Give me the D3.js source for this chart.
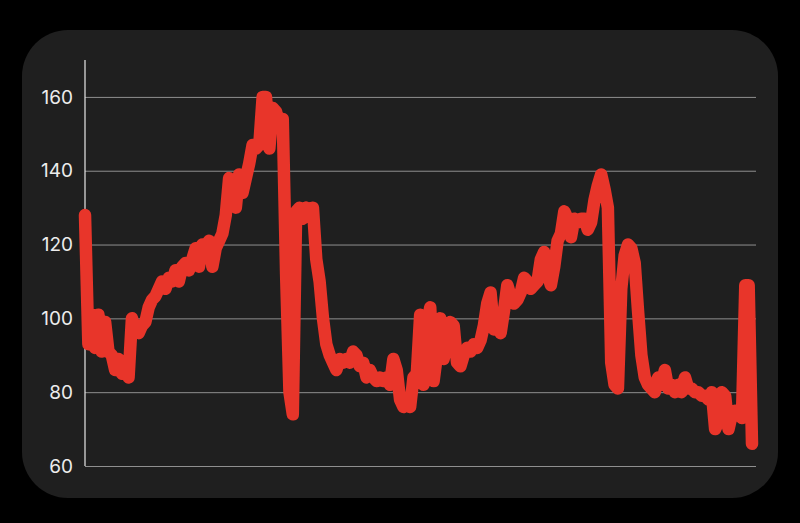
<!DOCTYPE html>
<html>
<head>
<meta charset="utf-8">
<script src="https://cdn.jsdelivr.net/npm/d3@7"></script>
<style>
  html, body { margin: 0; padding: 0; background: #000; }
  svg { display: block; }
</style>
</head>
<body>
<svg id="chart"></svg>
<script>
// readings, evenly spaced in time
const values = [
  128, 93, 101, 92, 101, 91, 99, 91, 90, 86,
  89, 85, 88, 84, 100, 97, 96, 98, 99, 103,
  105, 106, 108, 110, 108, 111, 110, 113, 110, 114,
  115, 113, 116, 119, 114, 120, 117, 121, 114, 119,
  121, 123, 128, 138, 137, 130, 139, 134, 138, 142,
  147, 146, 147, 160, 160, 146, 157, 156, 152, 154,
  112, 80, 74, 129, 130, 127, 130, 129, 130, 116,
  110, 100, 93, 90, 88, 86, 89, 88, 89, 88,
  91, 90, 87, 88, 84, 86, 84, 83, 84, 83,
  84, 82, 89, 86, 78, 76, 77, 76, 84, 85,
  101, 82, 98, 103, 83, 90, 100, 89, 93, 99,
  98, 88, 87, 90, 92, 91, 93, 92, 94, 98,
  104, 107, 97, 98, 96, 102, 109, 106, 104, 105,
  107, 111, 110, 108, 109, 110, 116, 118, 112, 109,
  114, 121, 123, 129, 127, 122, 127, 126, 127, 127,
  124, 126, 132, 136, 139, 135, 130, 88, 82, 81,
  108, 117, 120, 119, 115, 102, 90, 84, 82, 81,
  80, 84, 82, 86, 81, 82, 80, 82, 80, 84,
  81, 81, 80, 80, 79, 79, 78, 80, 70, 72,
  80, 79, 70, 74, 75, 74, 73, 109, 109, 66
];
const yTicks = [60, 80, 100, 120, 140, 160];
const yDomain = [60, 170];

const W = 800, H = 523;
const margin = {top: 60, right: 48, bottom: 57, left: 85};

const svg = d3.select('#chart')
    .attr('width', W)
    .attr('height', H);

svg.append('rect')
    .attr('x', 22).attr('y', 30)
    .attr('width', 756).attr('height', 468)
    .attr('rx', 46).attr('ry', 46)
    .attr('fill', '#1f1f1f');

const xScale = d3.scaleLinear()
    .domain([0, values.length - 1])
    .range([margin.left, W - margin.right]);

const yScale = d3.scaleLinear()
    .domain(yDomain)
    .range([H - margin.bottom, margin.top]);

// grid lines + labels
const yAxis = d3.axisLeft(yScale)
    .tickValues(yTicks)
    .tickSize(-(W - margin.right - margin.left + 4))
    .tickPadding(12);

const g = svg.append('g')
    .attr('transform', 'translate(' + margin.left + ',0)')
    .call(yAxis);
g.select('.domain').remove();
g.selectAll('.tick line')
    .attr('stroke', '#8f8f8f')
    .attr('stroke-width', 1);
g.selectAll('.tick text')
    .attr('fill', '#ececec')
    .style('font-family', 'Inter, "Open Sans", sans-serif')
    .style('font-size', '19px');

// vertical axis line
svg.append('line')
    .attr('x1', margin.left).attr('x2', margin.left)
    .attr('y1', margin.top).attr('y2', yScale(yDomain[0]))
    .attr('stroke', '#e8e8e8')
    .attr('stroke-width', 1.2);

const line = d3.line()
    .x((d, i) => xScale(i))
    .y(d => yScale(d));

svg.append('path')
    .datum(values)
    .attr('d', line)
    .attr('fill', 'none')
    .attr('stroke', '#e8352a')
    .attr('stroke-width', 12.5)
    .attr('stroke-linejoin', 'round')
    .attr('stroke-linecap', 'round');
</script>
</body>
</html>
